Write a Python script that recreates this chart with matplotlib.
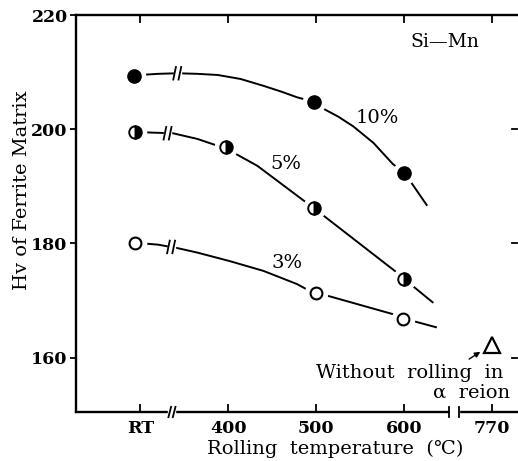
import numpy as np
import matplotlib.pyplot as plt
from matplotlib.patches import Rectangle

plt.rcParams['font.family'] = ['DejaVu Serif']

# x positions on a broken axis: RT plotted at 300, 770 plotted at 700
tick_pos = [300, 400, 500, 600, 700]
tick_lab = ['RT', '400', '500', '600', '770']

# measured points
x10 = [293, 497, 600]
y10 = [209.4, 204.8, 192.4]
x5 = [294, 397, 497, 600]
y5 = [199.5, 196.9, 186.2, 173.8]
x3 = [294, 500, 599]
y3 = [180.1, 171.3, 166.8]
x_tri = [700]
y_tri = [162.2]

# hand drawn curves
c10_x = [300, 320, 342, 365, 388, 414, 440, 460, 478, 497, 508, 525, 542, 565, 587, 600, 605, 626]
c10_y = [209.5, 209.7, 209.8, 209.7, 209.5, 208.8, 207.6, 206.6, 205.6, 204.8, 203.6, 202.2, 200.5, 197.6, 193.9, 192.4, 191.3, 186.6]
c5_x = [300, 315, 337, 365, 388, 397, 406, 433, 497, 508, 590, 600, 610, 633]
c5_y = [199.5, 199.4, 199.3, 198.3, 197.1, 196.9, 195.9, 193.6, 186.2, 184.9, 175.1, 173.8, 172.5, 169.6]
c3_x = [304, 320, 342, 365, 402, 440, 478, 490, 500, 514, 590, 599, 613, 637]
c3_y = [180.0, 179.8, 179.2, 178.4, 176.9, 175.2, 172.9, 171.9, 171.3, 170.8, 167.5, 166.8, 166.3, 165.3]
breaks = [(342, 209.8), (331, 199.3), (335, 179.4)]

fig = plt.figure(figsize=(5.18, 4.61), dpi=100)
ax = fig.add_axes([76/518, 1-412/461, 441/518, 397/461])
ax.set_xlim(227, 728)
ax.set_ylim(150.5, 220)

lw = 1.4
for cx, cy in [(c10_x, c10_y), (c5_x, c5_y), (c3_x, c3_y)]:
    ax.plot(cx, cy, color='black', lw=lw, zorder=2, solid_capstyle='butt')

# break marks on the curves
for bx, by in breaks:
    ax.add_patch(Rectangle((bx-4, by-1.2), 8, 2.4, color='white', zorder=3))
    for d in (-3, 3):
        ax.plot([bx+d-1.5, bx+d+1.5], [by-1.1, by+1.1], color='black', lw=1.3, zorder=4)

# white halo so the lines stop short of the markers
allx = x10 + x5 + x3
ally = y10 + y5 + y3
ax.plot(allx, ally, 'o', color='white', ms=16, zorder=5)
ax.plot(x10, y10, 'o', color='black', ms=9.5, zorder=6)
ax.plot(x5, y5, 'o', ms=9, fillstyle='right', markerfacecolor='black',
        markerfacecoloralt='white', markeredgecolor='black', mew=1.4, zorder=6)
ax.plot(x3, y3, 'o', ms=8.5, markerfacecolor='white', markeredgecolor='black', mew=1.5, zorder=6)
ax.plot(x_tri, y_tri, '^', ms=11, markerfacecolor='white', markeredgecolor='black', mew=1.6, zorder=6)

ax.annotate('', xy=(689, 161.3), xytext=(671, 159.5),
            arrowprops=dict(arrowstyle='-|>', color='black', lw=1.0, mutation_scale=8))

ax.text(646, 215.3, 'Si—Mn', ha='center', va='center', fontsize=13.5)
ax.text(569, 202.0, '10%', ha='center', va='center', fontsize=14)
ax.text(465, 193.9, '5%', ha='center', va='center', fontsize=14)
ax.text(467, 176.6, '3%', ha='center', va='center', fontsize=14)
ax.text(713, 157.3, 'Without  rolling  in', ha='right', va='center', fontsize=14)
ax.text(720, 153.9, 'α  reion', ha='right', va='center', fontsize=14)

for s in ax.spines.values():
    s.set_linewidth(1.7)
ax.spines['right'].set_visible(False)

ax.set_xticks(tick_pos)
ax.set_xticklabels(tick_lab)
ax.set_yticks([160, 180, 200, 220])
ax.tick_params(axis='x', direction='in', length=6, width=1.3, top=True, labelsize=12.5, pad=6)
ax.tick_params(axis='y', direction='out', length=4, width=1.3, labelsize=12.5, pad=2)
ax.tick_params(axis='y', which='both', right=False)
for lab in ax.get_xticklabels() + ax.get_yticklabels():
    lab.set_fontweight('bold')
for v in [160, 180, 200]:
    ax.plot([722, 728], [v, v], color='black', lw=1.3, clip_on=False)

# break in the x axis between 600 and 770
ax.add_patch(Rectangle((652, 149.5), 10, 2, color='white', clip_on=False, zorder=10))
ax.plot([651, 651], [149.7, 151.3], color='black', lw=1.3, clip_on=False, zorder=11)
ax.plot([662.5, 662.5], [149.7, 151.3], color='black', lw=1.3, clip_on=False, zorder=11)
# break mark between RT and 400
ax.add_patch(Rectangle((332, 149.5), 8, 2, color='white', clip_on=False, zorder=10))
for d in (-2.5, 2.5):
    ax.plot([336+d-1.5, 336+d+1.5], [149.6, 151.4], color='black', lw=1.3, clip_on=False, zorder=11)

fig.text(335/518, 1-449/461, 'Rolling  temperature  (℃)', ha='center', va='center', fontsize=14)
fig.text(22/518, 1-190/461, 'Hv of Ferrite Matrix', ha='center', va='center', rotation=90, fontsize=14)

fig.savefig('out.png', dpi=100)
